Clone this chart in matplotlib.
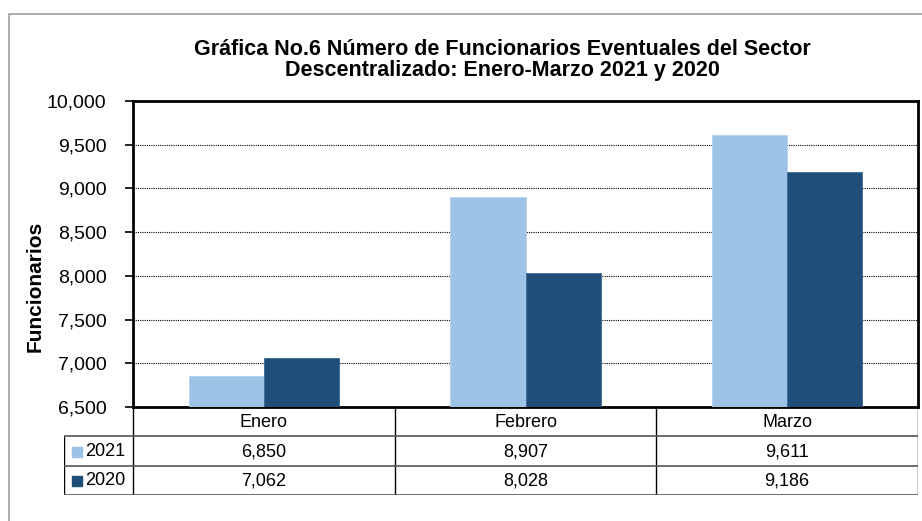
import numpy as np
import matplotlib.pyplot as plt
from matplotlib.patches import Rectangle

plt.rcParams['font.family'] = ['Liberation Sans', 'DejaVu Sans']

meses = ['Enero', 'Febrero', 'Marzo']
series = ['2021', '2020']
v2021 = [6850, 8907, 9611]
v2020 = [7062, 8028, 9186]
colores = ['#9DC3E6', '#1F4E79']
titulo = 'Gráfica No.6 Número de Funcionarios Eventuales del Sector\nDescentralizado: Enero-Marzo 2021 y 2020'

W, H = 922, 521
fig = plt.figure(figsize=(W / 100, H / 100), dpi=100)

def px(x0, y0, x1, y1):
    # caja en pixeles -> fraccion de figura [left, bottom, width, height]
    return [x0 / W, 1 - y1 / H, (x1 - x0) / W, (y1 - y0) / H]

# marco exterior
fig.patches.append(Rectangle((9 / W, -0.1), 1.2, 1 - 14 / H + 0.1, transform=fig.transFigure,
                             fill=False, edgecolor='#a0a0a0', linewidth=1.2))

ax = fig.add_axes(px(133, 101, 918, 407))
x = np.arange(len(meses))
w = 0.287
ax.bar(x - w / 2, v2021, w, color=colores[0], edgecolor='#b4d2ee', linewidth=0.6, zorder=3)
ax.bar(x + w / 2, v2020, w, color=colores[1], edgecolor='#3a6a96', linewidth=0.6, zorder=3)
ax.set_xlim(-0.5, 2.5)
ax.set_ylim(6500, 10000)
ax.set_yticks(np.arange(6500, 10001, 500))
ax.yaxis.set_major_formatter(plt.FuncFormatter(lambda v, p: f'{v:,.0f}'))
ax.tick_params(axis='y', direction='out', length=6, width=1.2, labelsize=14, pad=13)
ax.set_xticks([])
ax.grid(axis='y', linestyle=(0, (1, 1)), color='black', linewidth=0.8, zorder=0)
for s in ax.spines.values():
    s.set_linewidth(2)
fig.text(35 / W, 1 - 286 / H, 'Funcionarios', rotation=90, ha='center', va='center',
         fontsize=15, fontweight='bold')
fig.text(502 / W, 1 - 60 / H, titulo, ha='center', va='center', fontsize=15.5,
         fontweight='bold', linespacing=1.05)

# tabla de datos
x_left = 64
span = (918 - 133) / 3.0
tab = fig.add_axes(px(x_left, 407, 918, 495))
xl = -0.5 - (133 - x_left) / span
tab.set_xlim(xl, 2.5)
tab.set_ylim(3, 0)
tab.axis('off')
bordes = [-0.5, 0.5, 1.5, 2.5]
tab.vlines(bordes, 0, 3, color='black', linewidth=1)
tab.vlines(xl, 1, 3, color='black', linewidth=1)
tab.hlines([1, 2, 3], xl, 2.5, color='#555555', linewidth=1.2)
for i, m in enumerate(meses):
    tab.text(i, 0.52, m, ha='center', va='center', fontsize=13)
for r, (nombre, vals) in enumerate(zip(series, [v2021, v2020])):
    y = 1.52 + r
    for i, v in enumerate(vals):
        tab.text(i, y, f'{v:,}', ha='center', va='center', fontsize=13)
    tab.add_patch(Rectangle((xl + 8 / span, y - 0.17), 10 / span, 0.34, color=colores[r]))
    tab.text(xl + 21 / span, y, nombre, ha='left', va='center', fontsize=13)

fig.savefig('out.png', dpi=100)
